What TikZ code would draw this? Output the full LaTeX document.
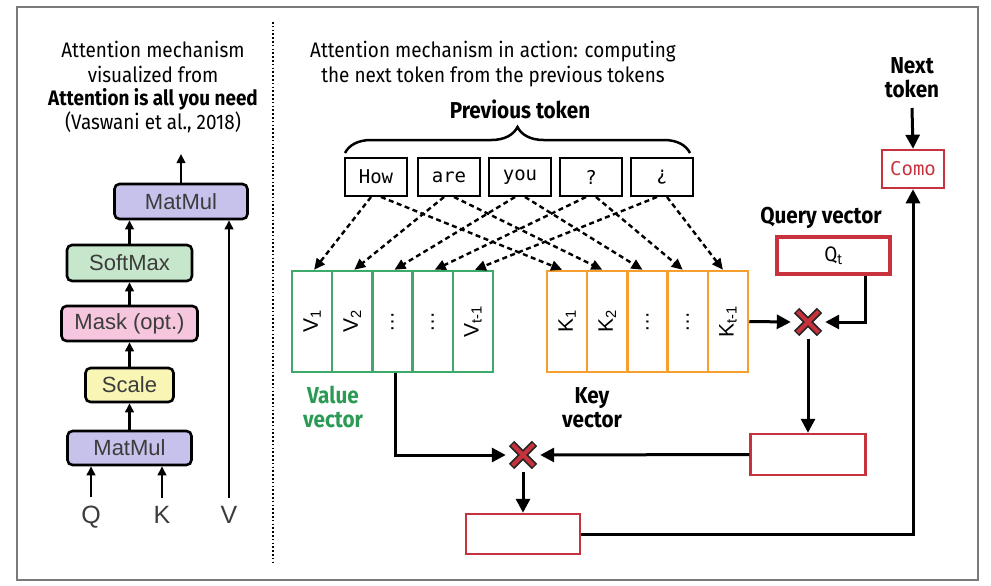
\documentclass[tikz,border=0pt]{standalone}
\usepackage{fontspec}
\setmainfont{Fira Sans}[FakeStretch=0.9]
\newfontfamily\helv{Liberation Sans}
\newfontfamily\mono{DejaVu Sans Mono}
\usetikzlibrary{arrows.meta,decorations.pathreplacing,calc}
\definecolor{vgreen}{HTML}{3DAA6B}
\definecolor{vtext}{HTML}{2A9A55}
\definecolor{korange}{HTML}{F5A02E}
\definecolor{qred}{HTML}{C8323C}
\definecolor{purp}{HTML}{C7C2EC}
\definecolor{lgreen}{HTML}{C6E7CB}
\definecolor{lpink}{HTML}{F6C6DE}
\definecolor{lyel}{HTML}{F8F5B5}
\definecolor{boxtxt}{HTML}{3C3C3C}
\definecolor{framec}{HTML}{7A7A7A}
\newcommand\mycross[1]{%
  \draw[line width=7.5pt, black!85] ($(#1)+(-11.5,-11.5)$) -- ($(#1)+(11.5,11.5)$) ($(#1)+(-11.5,11.5)$) -- ($(#1)+(11.5,-11.5)$);
  \draw[line width=4pt, qred] ($(#1)+(-10.5,-10.5)$) -- ($(#1)+(10.5,10.5)$) ($(#1)+(-10.5,10.5)$) -- ($(#1)+(10.5,-10.5)$);
}
\begin{document}
\begin{tikzpicture}[x=1pt,y=-1pt,
  lbox/.style={draw=black, line width=2.6pt, rounded corners=5pt, inner sep=0pt, text=boxtxt, font=\helv\fontsize{22}{22}\selectfont},
  larr/.style={line width=2.6pt, -{Triangle[length=9pt,width=8.5pt]}},
  conn/.style={line width=3pt, -{Triangle[length=14pt,width=14pt]}},
  dasharr/.style={line width=2.4pt, dash pattern=on 5pt off 3.5pt, -{Triangle[length=11pt,width=10pt]}},
  tok/.style={draw, line width=2pt, minimum width=62pt, minimum height=38pt, inner sep=0pt, font=\mono\fontsize{19}{19}\selectfont},
  vcell/.style={draw=vgreen, line width=2.5pt, minimum width=40.2pt, minimum height=101pt, inner sep=0pt},
  kcell/.style={draw=korange, line width=2.5pt, minimum width=40.2pt, minimum height=101pt, inner sep=0pt},
  clabel/.style={rotate=90, inner sep=0pt, font=\helv\fontsize{21}{21}\selectfont},
  ttl/.style={anchor=base, inner sep=0pt, font=\fontsize{21}{24}\selectfont},
  bld/.style={anchor=base, inner sep=0pt, font=\bfseries\fontsize{23}{24}\selectfont},
  qkv/.style={anchor=base, inner sep=0pt, text=boxtxt, font=\helv\fontsize{25}{25}\selectfont},
  redbox/.style={draw=qred, line width=2.5pt, inner sep=0pt}
]
\useasboundingbox (0,0) rectangle (991,586);
\draw[framec, line width=1.3pt] (17,7) rectangle (978,580);
\draw[line width=2pt, dash pattern=on 1.6pt off 2.2pt] (273,22) -- (273,563);

% left panel titles
\node[ttl] (lt1) at (153,58) {Attention mechanism};
\node[ttl] (lt2) at (153,82) {visualized from};
\node[ttl, font=\bfseries\fontsize{21}{24}\selectfont] (lt3) at (153,105) {Attention is all you need};
\node[ttl] (lt4) at (153,129) {(Vaswani et al., 2018)};

% left boxes
\node[lbox, fill=purp, minimum width=133pt, minimum height=35pt] (mm2) at (181,201.5) {MatMul};
\node[lbox, fill=lgreen, minimum width=125pt, minimum height=36pt] (sm) at (129.5,263) {SoftMax};
\node[lbox, fill=lpink, minimum width=136pt, minimum height=35pt] (mask) at (129.5,323.5) {Mask (opt.)};
\node[lbox, fill=lyel, minimum width=88pt, minimum height=34pt] (scl) at (129.5,385) {Scale};
\node[lbox, fill=purp, minimum width=124pt, minimum height=34pt] (mm1) at (129.5,448) {MatMul};
\node[qkv] (Q) at (91,523) {Q};
\node[qkv] (K) at (162,523) {K};
\node[qkv] (V) at (229,523) {V};
\coordinate (outtop) at (181,154);
\draw[larr] (mm2.north) -- (outtop);
\draw[larr] (sm.north) -- (sm.north |- mm2.south);
\draw[larr] (mask.north) -- (sm.south);
\draw[larr] (scl.north) -- (mask.south);
\draw[larr] (mm1.north) -- (scl.south);
\draw[larr] ([yshift=8pt]Q.north) -- (Q.north |- mm1.south);
\draw[larr] ([yshift=8pt]K.north) -- (K.north |- mm1.south);
\draw[larr] ([yshift=8pt]V.north) -- (V.north |- mm2.south);

% right panel titles
\node[ttl] (rt1) at (493,58) {Attention mechanism in action: computing};
\node[ttl] (rt2) at (493,82) {the next token from the previous tokens};
\node[bld] (prev) at (520,118) {Previous token};
\draw[line width=2.5pt, decorate, decoration={brace, amplitude=26pt}] (345,153) -- (690,153);

% tokens
\node[tok] (t1) at (376,177) {How};
\node[tok] (t2) at (449,177) {are};
\node[tok] (t3) at (520,177) {you};
\node[tok] (t4) at (591,177) {?};
\node[tok] (t5) at (662,177) {¿};

% value and key cells
\foreach \i in {1,...,5} {
  \node[vcell] (v\i) at ({292+40.2*(\i-0.5)},321.5) {};
  \node[kcell] (k\i) at ({547+40.2*(\i-0.5)},321.5) {};
}
\node[clabel] (vl1) at (v1) {V\textsubscript{1}};
\node[clabel] (vl2) at (v2) {V\textsubscript{2}};
\node[clabel] (vl3) at (v3) {\ldots};
\node[clabel] (vl4) at (v4) {\ldots};
\node[clabel] (vl5) at (v5) {V\textsubscript{t-1}};
\node[clabel] (kl1) at (k1) {K\textsubscript{1}};
\node[clabel] (kl2) at (k2) {K\textsubscript{2}};
\node[clabel] (kl3) at (k3) {\ldots};
\node[clabel] (kl4) at (k4) {\ldots};
\node[clabel] (kl5) at (k5) {K\textsubscript{t-1}};

\foreach \i in {1,...,5} {
  \draw[dasharr] ([xshift=-5pt]t\i.south) -- ([xshift=2pt]v\i.north);
  \draw[dasharr] ([xshift=5pt]t\i.south) -- ([xshift=-5pt]k\i.north);
}

\node[bld, text=vtext] (vv1) at (333,403) {Value};
\node[bld, text=vtext] (vv2) at (333,427) {vector};
\node[bld] (kv1) at (592,403) {Key};
\node[bld] (kv2) at (592,427) {vector};

% query / next token
\node[bld] (ql) at (821,223) {Query vector};
\node[redbox, line width=4pt, minimum width=113pt, minimum height=37pt, font=\fontsize{21}{21}\selectfont] (Qt) at (833.5,255.5) {Q\textsubscript{t}};
\node[bld] (nt1) at (912,74) {Next};
\node[bld] (nt2) at (912,98) {token};
\node[redbox, minimum width=62pt, minimum height=38pt, text=qred, font=\mono\fontsize{19}{19}\selectfont] (como) at (913,169) {Como};
\coordinate (ntarr) at (912,108);
\draw[conn] (ntarr) -- (como.north);

% multiplications
\node[circle, inner sep=0pt, minimum size=34pt] (X1) at (808,322) {};
\node[circle, inner sep=0pt, minimum size=34pt] (X2) at (523,455) {};
\mycross{X1}
\mycross{X2}
\node[redbox, minimum width=115pt, minimum height=41pt] (mid) at (808,454.5) {};
\node[redbox, minimum width=114pt, minimum height=40pt] (out) at (523,534) {};

\draw[conn] (k5.east) -- (X1.west);
\draw[conn] ([xshift=31.5pt]Qt.south) |- (X1.east);
\draw[conn] (X1.south) -- (mid.north);
\draw[conn] (mid.west) -- (X2.east);
\draw[conn] ([xshift=2.5pt]v3.south) |- (X2.west);
\draw[conn] (X2.south) -- (out.north);
\draw[conn] (out.east) -| (como.south);
\end{tikzpicture}
\end{document}
